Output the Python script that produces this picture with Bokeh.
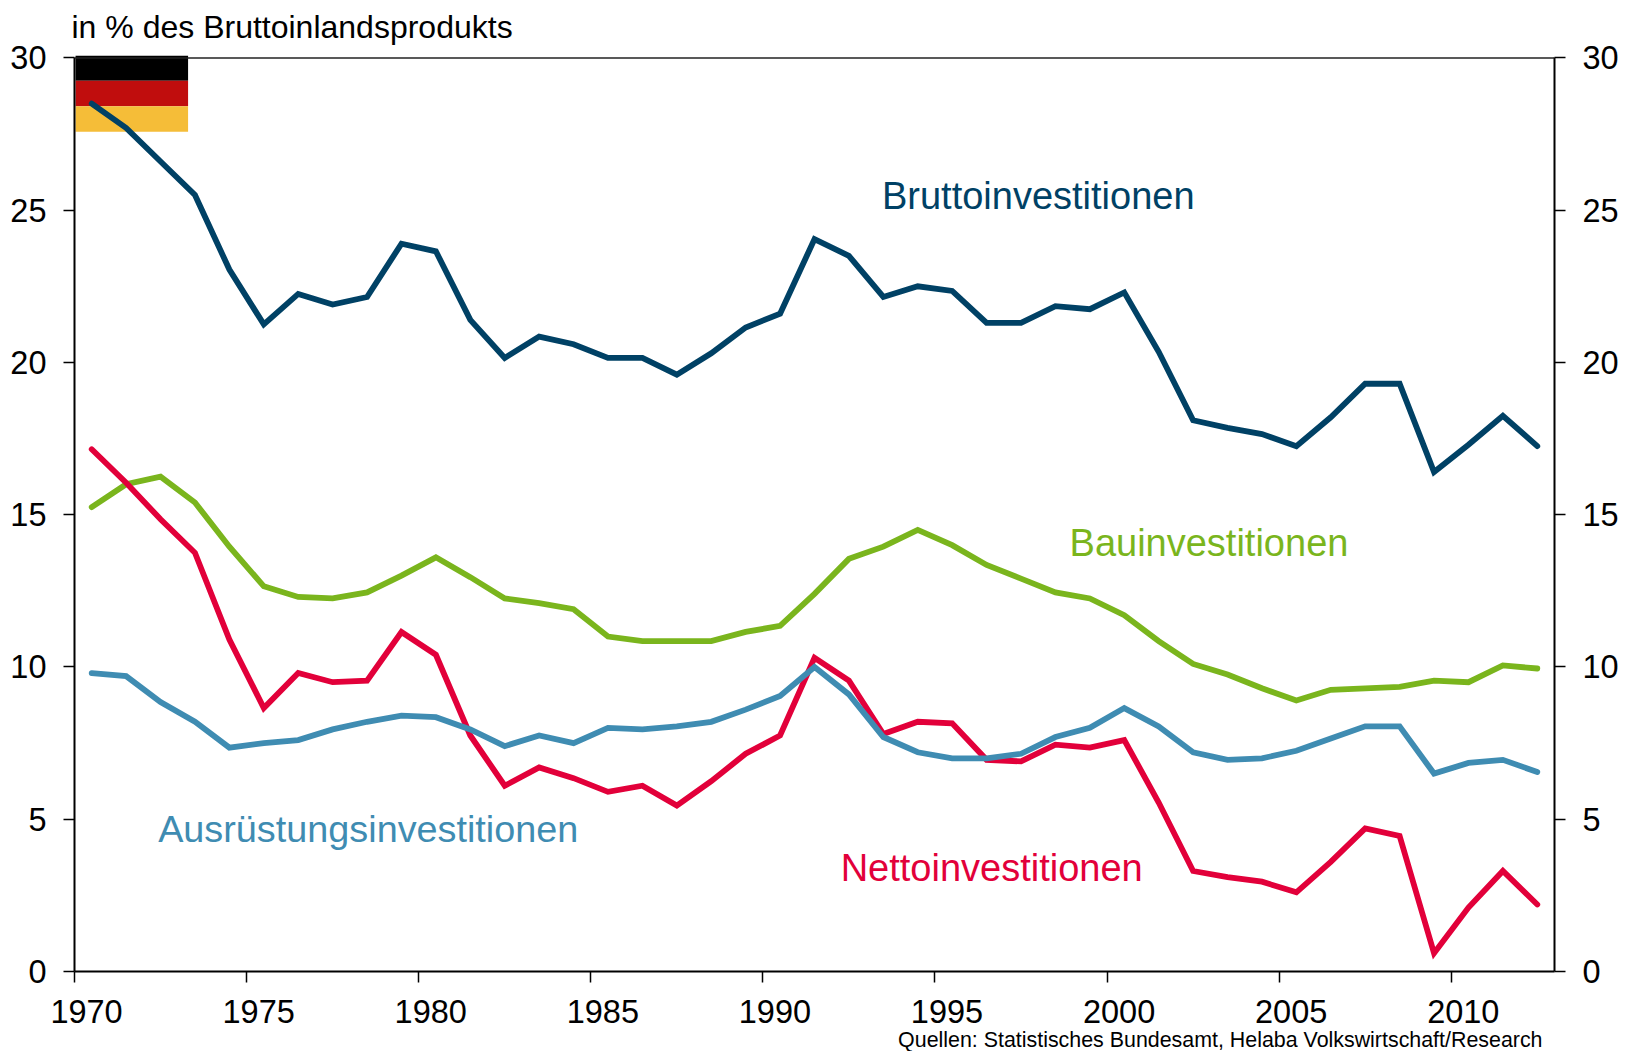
from bokeh.plotting import figure
from bokeh.models import LinearAxis, Range1d, FixedTicker, Label, Span, BasicTickFormatter, Title
from bokeh.embed import file_html
from bokeh.resources import INLINE

years = [y + 0.5 for y in range(1970, 2013)]
brutto = [28.5,27.7,26.6,25.5,23.05,21.25,22.25,21.9,22.15,23.9,
          23.65,21.4,20.15,20.85,20.6,20.15,20.15,19.6,20.3,21.15,
          21.6,24.05,23.5,22.15,22.5,22.35,21.3,21.3,21.85,21.75,
          22.3,20.35,18.1,17.85,17.65,17.25,18.2,19.3,19.3,16.4,
          17.3,18.25,17.25]
bau = [15.25,16.0,16.25,15.4,13.95,12.65,12.3,12.25,12.45,13.0,
       13.6,12.95,12.25,12.1,11.9,11.0,10.85,10.85,10.85,11.15,
       11.35,12.4,13.55,13.95,14.5,14.0,13.35,12.9,12.45,12.25,
       11.7,10.85,10.1,9.75,9.3,8.9,9.25,9.3,9.35,9.55,
       9.5,10.05,9.95]
netto = [17.15,16.05,14.85,13.75,10.9,8.65,9.8,9.5,9.55,11.15,
         10.4,7.75,6.1,6.7,6.35,5.9,6.1,5.45,6.25,7.15,
         7.75,10.3,9.55,7.8,8.2,8.15,6.95,6.9,7.45,7.35,
         7.6,5.55,3.3,3.1,2.95,2.6,3.6,4.7,4.45,0.6,
         2.1,3.3,2.2]
ausr = [9.8,9.7,8.85,8.2,7.35,7.5,7.6,7.95,8.2,8.4,
        8.35,7.95,7.4,7.75,7.5,8.0,7.95,8.05,8.2,8.6,
        9.05,10.0,9.1,7.7,7.2,7.0,7.0,7.15,7.7,8.0,
        8.65,8.05,7.2,6.95,7.0,7.25,7.65,8.05,8.05,6.5,
        6.85,6.95,6.55]
x_ticks = [1970,1975,1980,1985,1990,1995,2000,2005,2010]
y_ticks = [0,5,10,15,20,25,30]

FONT = "Liberation Sans"
BRUTTO, BAU, NETTO, AUSR = "#004165", "#7AB51D", "#E2003A", "#3F8CB2"

p = figure(output_backend="svg", toolbar_location=None,
           frame_width=1480, frame_height=916,
           x_range=Range1d(1970, 2013), y_range=Range1d(0, 30.08),
           x_axis_location=None, y_axis_location=None,
           min_border_left=74, min_border_right=75, min_border_top=55, min_border_bottom=80,
           background_fill_color="white", border_fill_color="white")
p.grid.visible = False
p.outline_line_color = None

p.extra_x_ranges["labels"] = Range1d(1970 - 0.35, 2013 - 0.35)

def style(ax, standoff):
    ax.axis_line_color = "black"
    ax.axis_line_width = 2
    ax.major_tick_line_color = "black"
    ax.major_tick_line_width = 1.5
    ax.major_tick_out = 11
    ax.major_tick_in = 0
    ax.minor_tick_line_color = None
    ax.major_label_text_font = FONT
    ax.major_label_text_font_size = "32.5px"
    ax.major_label_text_color = "black"
    ax.major_label_standoff = standoff

left = LinearAxis(ticker=FixedTicker(ticks=y_ticks), bounds=(0, 30)); style(left, 17)
right = LinearAxis(ticker=FixedTicker(ticks=y_ticks), bounds=(0, 30)); style(right, 17)
p.add_layout(left, "left")
p.add_layout(right, "right")

bottom = LinearAxis(ticker=FixedTicker(ticks=[], minor_ticks=x_ticks)); style(bottom, 0)
bottom.minor_tick_line_color = "black"
bottom.minor_tick_line_width = 1.5
bottom.minor_tick_out = 11
bottom.minor_tick_in = 0
p.add_layout(bottom, "below")

lab = LinearAxis(x_range_name="labels", ticker=FixedTicker(ticks=x_ticks),
                 formatter=BasicTickFormatter(use_scientific=False)); style(lab, 0)
lab.axis_line_color = None
lab.major_tick_line_color = None
lab.major_tick_out = 0
lab.major_label_standoff = 17
p.add_layout(lab, "below")

p.add_layout(Span(location=30, dimension="width", line_color="#222222", line_width=1.5))

for bot, top, col in [(29.25, 30.08, "#000000"), (28.41, 29.25, "#C00D0D"), (27.58, 28.41, "#F5BD38")]:
    p.quad(left=[1970.03], right=[1973.3], bottom=[bot], top=[top],
           fill_color=col, line_color=None)

for ys, col in [(brutto, BRUTTO), (bau, BAU), (netto, NETTO), (ausr, AUSR)]:
    p.line(years, ys, line_color=col, line_width=5.8, line_join="miter", line_cap="round")

def lbl(x, y, text, col, size, **kw):
    p.add_layout(Label(x=x, y=y, text=text, text_color=col, text_font=FONT,
                       text_font_size=size, text_baseline="alphabetic", **kw))

lbl(1993.46, 25.48, "Bruttoinvestitionen", BRUTTO, "38px")
lbl(1998.91, 14.08, "Bauinvestitionen", BAU, "38px")
lbl(1972.43, 4.68, "Ausrüstungsinvestitionen", AUSR, "37.8px")
lbl(1992.26, 3.41, "Nettoinvestitionen", NETTO, "38px")

p.add_layout(Title(text="in % des Bruttoinlandsprodukts", align="left", offset=-3,
                   vertical_align="top", text_font=FONT, text_font_size="32px",
                   text_font_style="normal", text_color="black", standoff=17), "above")
p.add_layout(Title(text="Quellen: Statistisches Bundesamt, Helaba Volkswirtschaft/Research",
                   align="right", offset=12, text_font=FONT, text_font_size="21.4px",
                   text_font_style="normal", text_color="black", standoff=0), "below")

open("out.html", "w").write(file_html(p, INLINE))
